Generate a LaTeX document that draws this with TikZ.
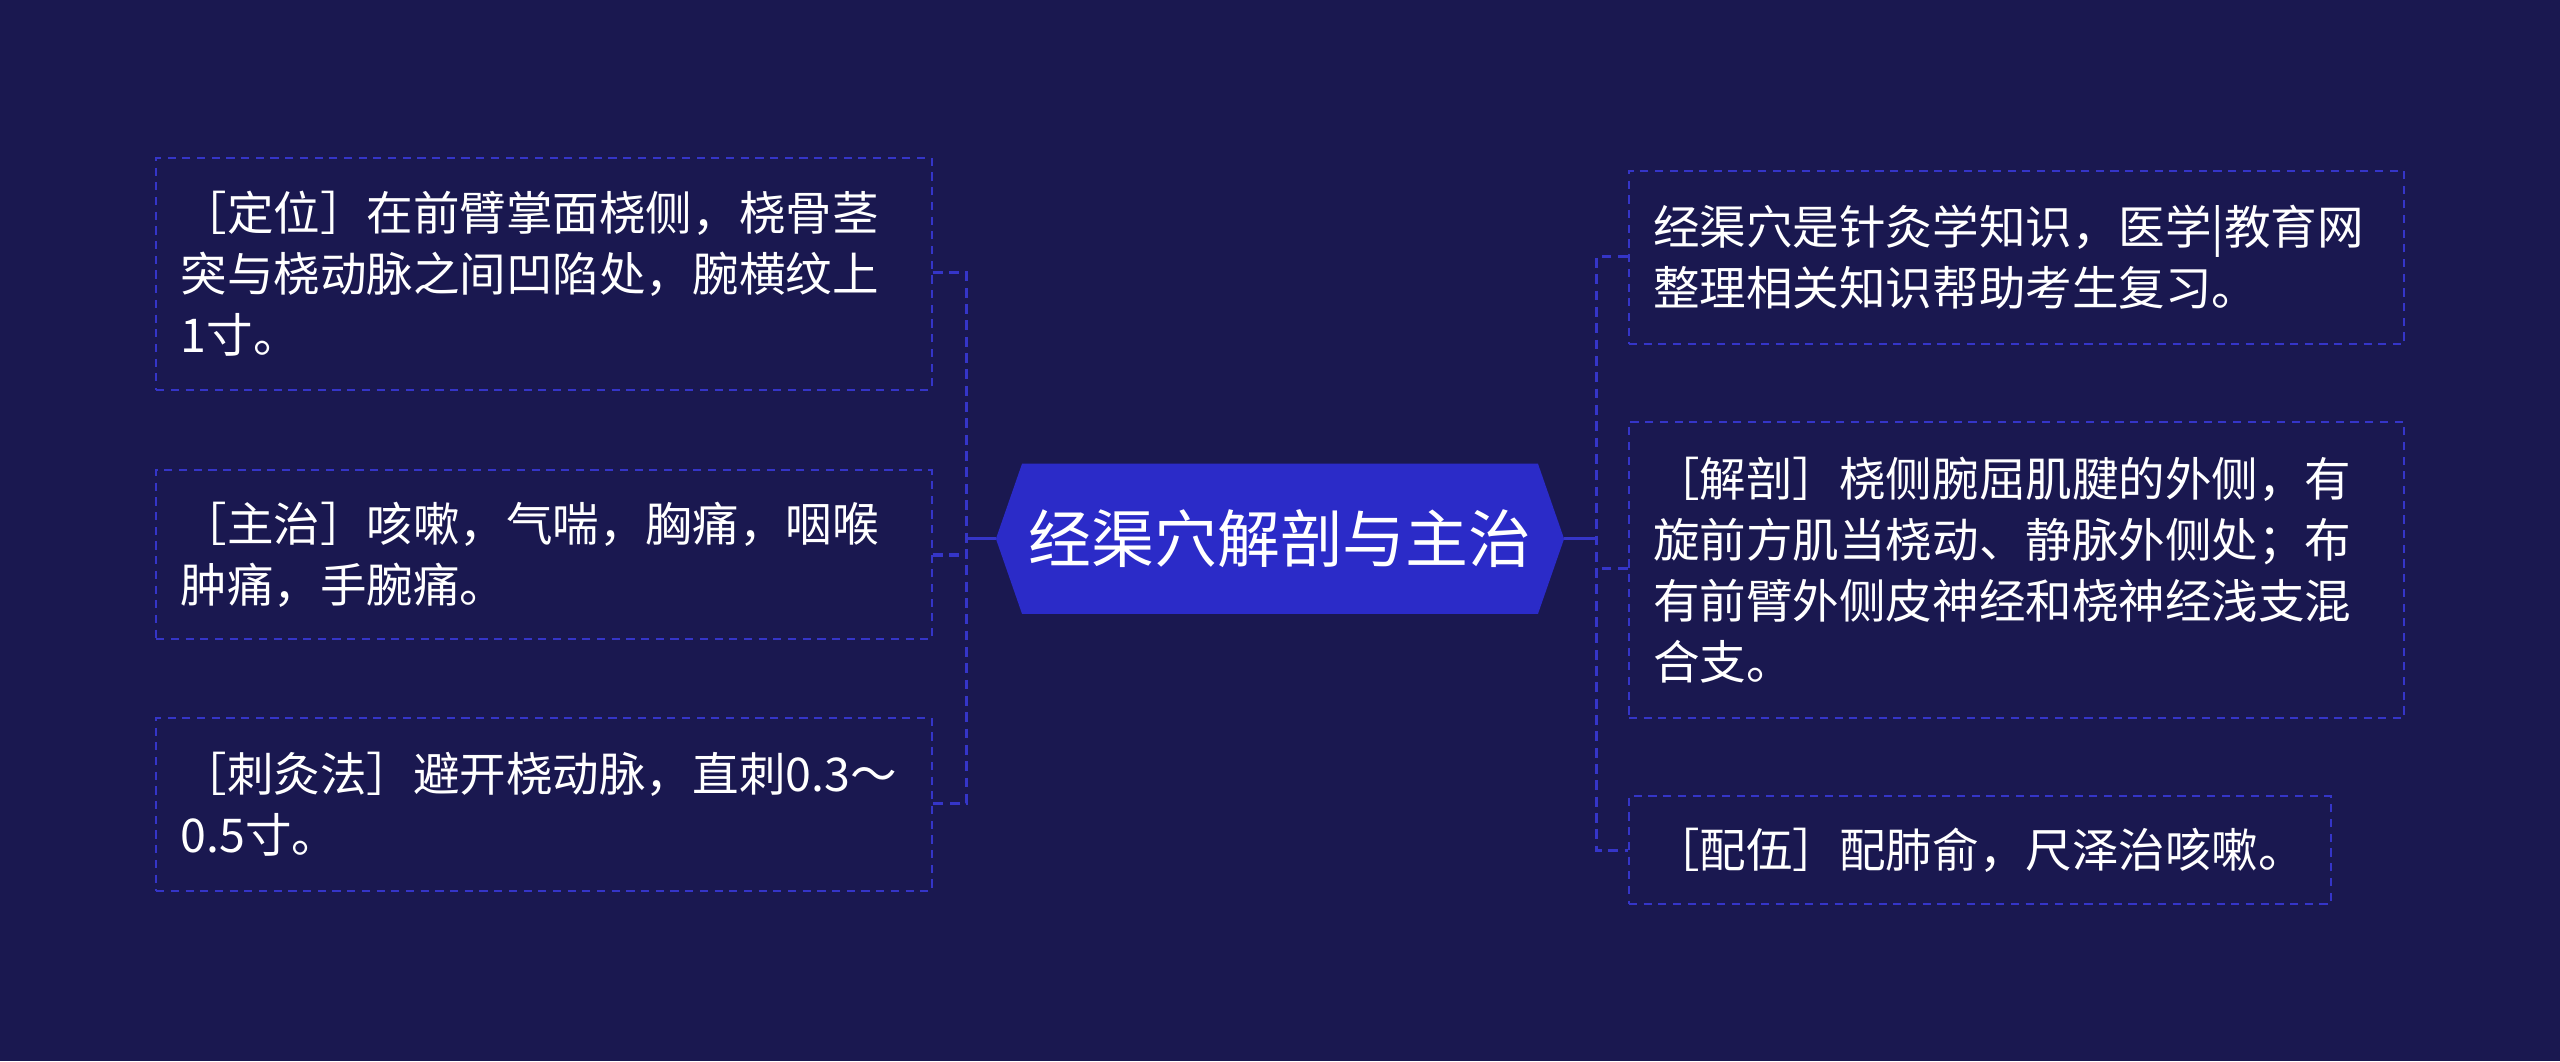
\documentclass[tikz,border=0pt]{standalone}
\usepackage{fontspec}
\newfontfamily\cjk{Noto Sans CJK SC}
\usetikzlibrary{shapes.misc}
\definecolor{bg}{HTML}{1A1850}
\definecolor{hub}{HTML}{2B2BC8}
\definecolor{edge}{HTML}{3535C8}
\tikzset{
 leaf/.style={draw=edge, dashed, dash pattern=on 5pt off 4pt, line width=1.3pt, text=white, align=left, inner xsep=15pt, inner ysep=6pt, font=\cjk\fontsize{28.5}{37.5}\selectfont, anchor=north west},
 conn/.style={draw=edge, line width=2pt, dash pattern=on 6pt off 4pt},
}
\begin{document}
\begin{tikzpicture}[x=1pt,y=-1pt]
\fill[bg] (0,0) rectangle (1568,650);
\useasboundingbox (0,0) rectangle (1568,650);
\fill[hub] (610,330) -- (626,284) -- (942,284) -- (958,330) -- (942,376) -- (626,376) -- cycle;
\node[text=white, font=\cjk\fontsize{38.5}{40}\selectfont] (c) at (784,330) {经渠穴解剖与主治};
\coordinate (cl) at (610,330);
\coordinate (cr) at (958,330);
\node[leaf, text width=445pt, minimum width=475pt, minimum height=142pt] (l1) at (95,96) {［定位］在前臂掌面桡侧，桡骨茎\\突与桡动脉之间凹陷处，腕横纹上\\1寸。};
\node[leaf, text width=445pt, minimum width=475pt, minimum height=104pt] (l2) at (95,287) {［主治］咳嗽，气喘，胸痛，咽喉\\肿痛，手腕痛。};
\node[leaf, text width=445pt, minimum width=475pt, minimum height=106pt] (l3) at (95,439) {［刺灸法］避开桡动脉，直刺0.3～\\0.5寸。};
\node[leaf, text width=445pt, minimum width=475pt, minimum height=106pt] (r1) at (997,104) {经渠穴是针灸学知识，医学|教育网\\整理相关知识帮助考生复习。};
\node[leaf, text width=445pt, minimum width=475pt, minimum height=181pt] (r2) at (997,258) {［解剖］桡侧腕屈肌腱的外侧，有\\旋前方肌当桡动、静脉外侧处；布\\有前臂外侧皮神经和桡神经浅支混\\合支。};
\node[leaf, text width=400pt, minimum width=430pt, minimum height=66pt] (r3) at (997,487) {［配伍］配肺俞，尺泽治咳嗽。};
\coordinate (lj) at (592,330);
\coordinate (rj) at (978,330);
\draw[draw=edge, line width=2pt] (cl) -- (lj);
\draw[draw=edge, line width=2pt] (cr) -- (rj);
\draw[conn] (l1.east |- 0,167) -- (592,167) -- (592,492) -- (l3.east |- 0,492);
\draw[conn] (l2.east |- 0,340) -- (592,340);
\draw[conn] (r1.west |- 0,157) -- (978,157) -- (978,521) -- (r3.west |- 0,521);
\draw[conn] (r2.west |- 0,348) -- (978,348);
\end{tikzpicture}
\end{document}
